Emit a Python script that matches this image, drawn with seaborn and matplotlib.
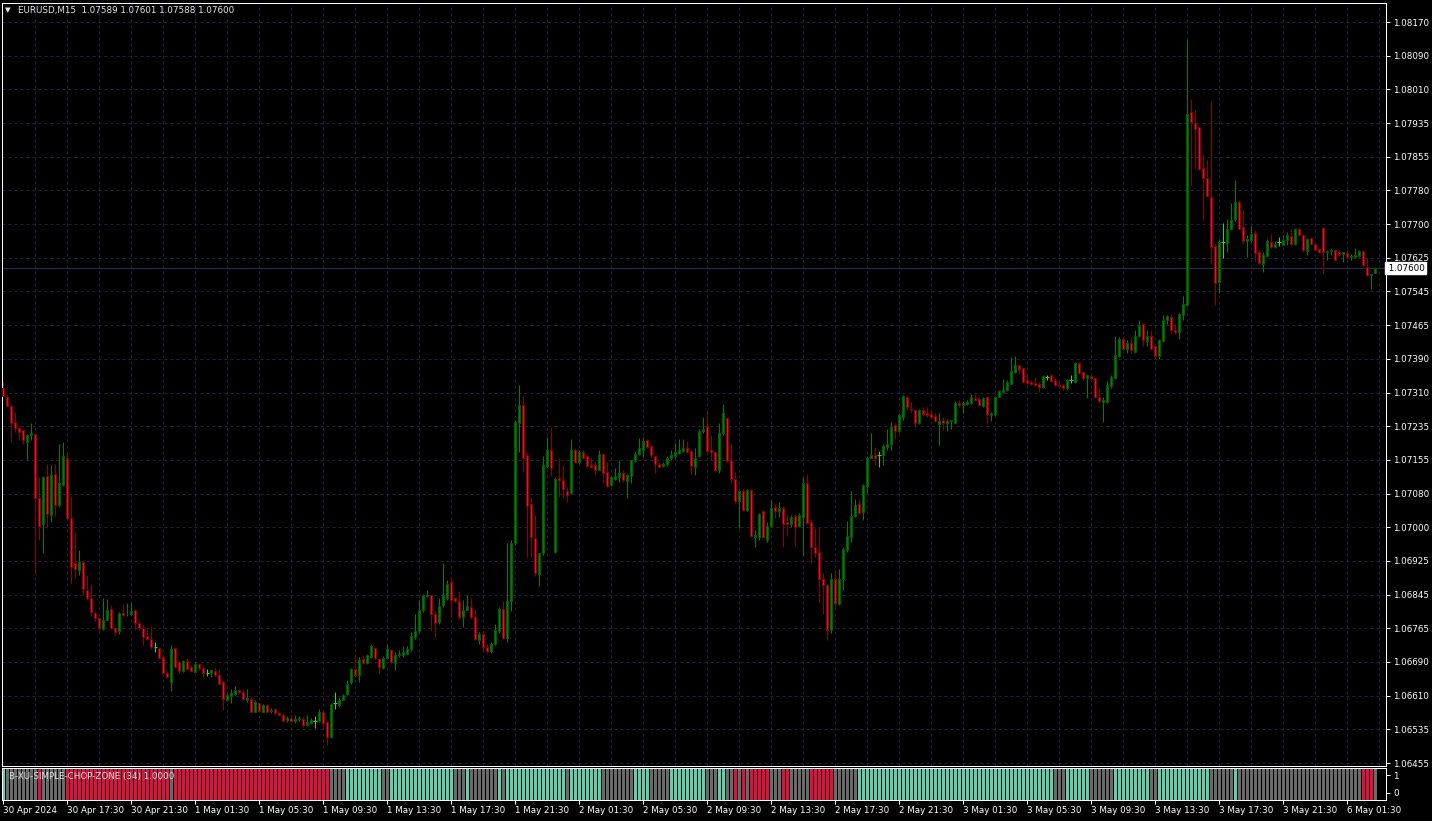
import numpy as np
import pandas as pd
import matplotlib
matplotlib.use("Agg")
import matplotlib.pyplot as plt
import matplotlib.transforms as mtransforms
import seaborn as sns

# EURUSD M15 candles (30 Apr 2024 13:30 -> 6 May 2024 03:30)
OPEN = [
    1.07324, 1.07301, 1.07282, 1.07244, 1.07231, 1.07225, 1.07198, 1.07214, 1.07216, 1.07068,
    1.07008, 1.07120, 1.07028, 1.07125, 1.07052, 1.07098, 1.07162, 1.07021, 1.06918, 1.06901,
    1.06921, 1.06856, 1.06836, 1.06803, 1.06790, 1.06766, 1.06787, 1.06812, 1.06767, 1.06761,
    1.06803, 1.06799, 1.06800, 1.06809, 1.06779, 1.06768, 1.06748, 1.06743, 1.06724, 1.06722,
    1.06701, 1.06664, 1.06643, 1.06721, 1.06689, 1.06668, 1.06691, 1.06678, 1.06666, 1.06684,
    1.06676, 1.06664, 1.06664, 1.06667, 1.06658, 1.06643, 1.06602, 1.06611, 1.06614, 1.06624,
    1.06620, 1.06602, 1.06604, 1.06573, 1.06594, 1.06573, 1.06589, 1.06575, 1.06579, 1.06570,
    1.06566, 1.06554, 1.06560, 1.06553, 1.06557, 1.06558, 1.06542, 1.06548, 1.06553, 1.06553,
    1.06573, 1.06549, 1.06516, 1.06593, 1.06589, 1.06602, 1.06614, 1.06643, 1.06672, 1.06658,
    1.06695, 1.06687, 1.06701, 1.06722, 1.06695, 1.06676, 1.06697, 1.06716, 1.06687, 1.06704,
    1.06705, 1.06708, 1.06718, 1.06747, 1.06761, 1.06809, 1.06842, 1.06845, 1.06799, 1.06782,
    1.06820, 1.06836, 1.06873, 1.06836, 1.06830, 1.06793, 1.06810, 1.06816, 1.06792, 1.06739,
    1.06753, 1.06724, 1.06714, 1.06731, 1.06761, 1.06812, 1.06745, 1.06830, 1.06965, 1.07241,
    1.07283, 1.07167, 1.07054, 1.06975, 1.06893, 1.06940, 1.07142, 1.07179, 1.06944, 1.07115,
    1.07111, 1.07084, 1.07079, 1.07179, 1.07152, 1.07175, 1.07165, 1.07144, 1.07144, 1.07134,
    1.07170, 1.07128, 1.07098, 1.07113, 1.07117, 1.07127, 1.07108, 1.07119, 1.07154, 1.07170,
    1.07180, 1.07202, 1.07188, 1.07165, 1.07148, 1.07142, 1.07147, 1.07160, 1.07165, 1.07173,
    1.07177, 1.07185, 1.07177, 1.07140, 1.07165, 1.07224, 1.07234, 1.07179, 1.07175, 1.07134,
    1.07218, 1.07254, 1.07156, 1.07113, 1.07062, 1.07084, 1.07040, 1.07088, 1.06978, 1.06977,
    1.07038, 1.06972, 1.07003, 1.07048, 1.07039, 1.07046, 1.07012, 1.07009, 1.07026, 1.07003,
    1.07025, 1.07102, 1.07013, 1.06954, 1.06943, 1.06882, 1.06867, 1.06764, 1.06882, 1.06823,
    1.06880, 1.06949, 1.06978, 1.07026, 1.07054, 1.07036, 1.07096, 1.07162, 1.07167, 1.07167,
    1.07167, 1.07187, 1.07193, 1.07237, 1.07224, 1.07256, 1.07301, 1.07275, 1.07273, 1.07242,
    1.07272, 1.07264, 1.07262, 1.07258, 1.07239, 1.07248, 1.07241, 1.07247, 1.07242, 1.07289,
    1.07283, 1.07287, 1.07289, 1.07300, 1.07297, 1.07281, 1.07302, 1.07260, 1.07262, 1.07302,
    1.07314, 1.07318, 1.07333, 1.07360, 1.07376, 1.07370, 1.07341, 1.07337, 1.07335, 1.07332,
    1.07326, 1.07349, 1.07353, 1.07341, 1.07329, 1.07329, 1.07322, 1.07341, 1.07337, 1.07380,
    1.07360, 1.07345, 1.07350, 1.07346, 1.07302, 1.07291, 1.07291, 1.07327, 1.07345, 1.07397,
    1.07437, 1.07414, 1.07426, 1.07407, 1.07443, 1.07471, 1.07432, 1.07443, 1.07420, 1.07397,
    1.07432, 1.07480, 1.07488, 1.07458, 1.07453, 1.07491, 1.07515, 1.07961, 1.07937, 1.07926,
    1.07831, 1.07808, 1.07764, 1.07651, 1.07569, 1.07660, 1.07659, 1.07690, 1.07713, 1.07754,
    1.07696, 1.07664, 1.07665, 1.07681, 1.07638, 1.07611, 1.07629, 1.07660, 1.07650, 1.07660,
    1.07655, 1.07665, 1.07675, 1.07657, 1.07690, 1.07677, 1.07640, 1.07669, 1.07656, 1.07644,
    1.07694, 1.07638, 1.07640, 1.07642, 1.07638, 1.07634, 1.07636, 1.07625, 1.07625, 1.07628,
    1.07640, 1.07602, 1.07584, 1.07589,
]
HIGH = [
    1.07337, 1.07306, 1.07285, 1.07268, 1.07234, 1.07228, 1.07216, 1.07242, 1.07219, 1.07117,
    1.07119, 1.07147, 1.07144, 1.07148, 1.07194, 1.07197, 1.07174, 1.07072, 1.06989, 1.06949,
    1.06924, 1.06890, 1.06869, 1.06807, 1.06793, 1.06838, 1.06834, 1.06820, 1.06770, 1.06805,
    1.06824, 1.06826, 1.06827, 1.06812, 1.06785, 1.06774, 1.06766, 1.06772, 1.06734, 1.06724,
    1.06705, 1.06668, 1.06729, 1.06724, 1.06691, 1.06693, 1.06697, 1.06681, 1.06688, 1.06685,
    1.06679, 1.06672, 1.06671, 1.06676, 1.06672, 1.06647, 1.06617, 1.06627, 1.06633, 1.06627,
    1.06624, 1.06627, 1.06608, 1.06600, 1.06596, 1.06591, 1.06591, 1.06583, 1.06583, 1.06572,
    1.06570, 1.06563, 1.06566, 1.06566, 1.06564, 1.06562, 1.06567, 1.06560, 1.06563, 1.06581,
    1.06577, 1.06552, 1.06594, 1.06620, 1.06608, 1.06614, 1.06647, 1.06676, 1.06705, 1.06701,
    1.06705, 1.06708, 1.06731, 1.06724, 1.06699, 1.06702, 1.06731, 1.06720, 1.06712, 1.06716,
    1.06725, 1.06725, 1.06758, 1.06801, 1.06832, 1.06847, 1.06855, 1.06847, 1.06809, 1.06838,
    1.06917, 1.06878, 1.06886, 1.06840, 1.06853, 1.06832, 1.06843, 1.06836, 1.06809, 1.06758,
    1.06761, 1.06731, 1.06735, 1.06776, 1.06816, 1.06830, 1.06965, 1.06971, 1.07248, 1.07329,
    1.07304, 1.07175, 1.07069, 1.07028, 1.06941, 1.07165, 1.07210, 1.07233, 1.07117, 1.07162,
    1.07144, 1.07093, 1.07204, 1.07183, 1.07179, 1.07179, 1.07167, 1.07162, 1.07152, 1.07180,
    1.07173, 1.07152, 1.07119, 1.07137, 1.07157, 1.07133, 1.07125, 1.07157, 1.07175, 1.07208,
    1.07210, 1.07206, 1.07191, 1.07167, 1.07152, 1.07152, 1.07165, 1.07179, 1.07196, 1.07204,
    1.07204, 1.07200, 1.07179, 1.07183, 1.07227, 1.07255, 1.07273, 1.07214, 1.07177, 1.07241,
    1.07285, 1.07256, 1.07193, 1.07129, 1.07086, 1.07090, 1.07090, 1.07090, 1.06995, 1.07034,
    1.07040, 1.07013, 1.07063, 1.07054, 1.07059, 1.07049, 1.07028, 1.07028, 1.07031, 1.07034,
    1.07117, 1.07123, 1.07017, 1.07000, 1.07000, 1.06894, 1.06870, 1.06894, 1.06901, 1.06905,
    1.06955, 1.07015, 1.07085, 1.07066, 1.07065, 1.07100, 1.07165, 1.07218, 1.07187, 1.07177,
    1.07193, 1.07229, 1.07245, 1.07241, 1.07264, 1.07306, 1.07304, 1.07291, 1.07275, 1.07275,
    1.07278, 1.07278, 1.07272, 1.07265, 1.07264, 1.07255, 1.07252, 1.07250, 1.07293, 1.07296,
    1.07293, 1.07295, 1.07309, 1.07310, 1.07301, 1.07302, 1.07304, 1.07268, 1.07304, 1.07319,
    1.07343, 1.07341, 1.07395, 1.07397, 1.07377, 1.07372, 1.07356, 1.07341, 1.07349, 1.07337,
    1.07353, 1.07354, 1.07355, 1.07345, 1.07337, 1.07332, 1.07343, 1.07353, 1.07383, 1.07383,
    1.07363, 1.07356, 1.07353, 1.07349, 1.07322, 1.07301, 1.07339, 1.07353, 1.07443, 1.07441,
    1.07441, 1.07434, 1.07441, 1.07457, 1.07481, 1.07474, 1.07457, 1.07457, 1.07422, 1.07437,
    1.07491, 1.07491, 1.07495, 1.07472, 1.07497, 1.07535, 1.08130, 1.07991, 1.07966, 1.07927,
    1.07864, 1.07850, 1.07985, 1.07657, 1.07667, 1.07704, 1.07715, 1.07750, 1.07804, 1.07758,
    1.07735, 1.07677, 1.07697, 1.07688, 1.07643, 1.07638, 1.07667, 1.07679, 1.07664, 1.07673,
    1.07677, 1.07684, 1.07690, 1.07694, 1.07696, 1.07679, 1.07671, 1.07673, 1.07659, 1.07648,
    1.07696, 1.07643, 1.07646, 1.07643, 1.07643, 1.07638, 1.07643, 1.07634, 1.07648, 1.07642,
    1.07643, 1.07623, 1.07586, 1.07601,
]
LOW = [
    1.07302, 1.07279, 1.07201, 1.07221, 1.07202, 1.07194, 1.07156, 1.07202, 1.06893, 1.06972,
    1.06941, 1.07000, 1.07013, 1.07026, 1.07048, 1.07096, 1.07018, 1.06870, 1.06886, 1.06890,
    1.06847, 1.06832, 1.06796, 1.06784, 1.06758, 1.06764, 1.06785, 1.06765, 1.06751, 1.06753,
    1.06795, 1.06795, 1.06797, 1.06762, 1.06762, 1.06728, 1.06739, 1.06718, 1.06712, 1.06697,
    1.06658, 1.06651, 1.06622, 1.06676, 1.06664, 1.06665, 1.06670, 1.06665, 1.06665, 1.06670,
    1.06654, 1.06656, 1.06654, 1.06654, 1.06635, 1.06577, 1.06599, 1.06593, 1.06613, 1.06616,
    1.06602, 1.06596, 1.06571, 1.06572, 1.06573, 1.06572, 1.06572, 1.06570, 1.06567, 1.06563,
    1.06550, 1.06550, 1.06550, 1.06548, 1.06553, 1.06539, 1.06541, 1.06546, 1.06536, 1.06550,
    1.06539, 1.06496, 1.06514, 1.06581, 1.06585, 1.06600, 1.06612, 1.06639, 1.06654, 1.06643,
    1.06685, 1.06684, 1.06698, 1.06693, 1.06664, 1.06673, 1.06695, 1.06687, 1.06671, 1.06701,
    1.06701, 1.06707, 1.06714, 1.06743, 1.06758, 1.06805, 1.06839, 1.06762, 1.06747, 1.06776,
    1.06816, 1.06832, 1.06792, 1.06828, 1.06789, 1.06770, 1.06809, 1.06789, 1.06739, 1.06731,
    1.06712, 1.06710, 1.06710, 1.06728, 1.06755, 1.06743, 1.06735, 1.06807, 1.06959, 1.07175,
    1.07129, 1.06932, 1.06932, 1.06887, 1.06865, 1.06936, 1.07137, 1.07119, 1.06940, 1.07071,
    1.07069, 1.07059, 1.07077, 1.07150, 1.07148, 1.07160, 1.07140, 1.07137, 1.07121, 1.07133,
    1.07103, 1.07094, 1.07096, 1.07110, 1.07106, 1.07106, 1.07069, 1.07103, 1.07152, 1.07167,
    1.07164, 1.07183, 1.07162, 1.07127, 1.07137, 1.07139, 1.07142, 1.07156, 1.07160, 1.07170,
    1.07175, 1.07173, 1.07125, 1.07121, 1.07164, 1.07219, 1.07167, 1.07156, 1.07131, 1.07127,
    1.07214, 1.07152, 1.07102, 1.07057, 1.06998, 1.07039, 1.07039, 1.06977, 1.06955, 1.06972,
    1.06975, 1.06967, 1.07001, 1.07021, 1.07025, 1.06955, 1.06980, 1.07002, 1.06957, 1.07002,
    1.06934, 1.07009, 1.06918, 1.06932, 1.06828, 1.06801, 1.06739, 1.06756, 1.06812, 1.06820,
    1.06856, 1.06944, 1.06967, 1.07025, 1.07032, 1.07017, 1.07079, 1.07160, 1.07144, 1.07139,
    1.07144, 1.07179, 1.07180, 1.07204, 1.07221, 1.07248, 1.07272, 1.07264, 1.07233, 1.07239,
    1.07258, 1.07256, 1.07252, 1.07245, 1.07191, 1.07225, 1.07224, 1.07229, 1.07241, 1.07279,
    1.07265, 1.07283, 1.07287, 1.07293, 1.07281, 1.07279, 1.07242, 1.07247, 1.07258, 1.07301,
    1.07312, 1.07316, 1.07332, 1.07358, 1.07356, 1.07335, 1.07333, 1.07329, 1.07327, 1.07314,
    1.07324, 1.07341, 1.07337, 1.07327, 1.07322, 1.07319, 1.07319, 1.07335, 1.07335, 1.07356,
    1.07341, 1.07300, 1.07341, 1.07299, 1.07289, 1.07245, 1.07289, 1.07324, 1.07343, 1.07395,
    1.07412, 1.07403, 1.07404, 1.07403, 1.07440, 1.07420, 1.07420, 1.07410, 1.07389, 1.07391,
    1.07430, 1.07471, 1.07451, 1.07448, 1.07437, 1.07480, 1.07512, 1.07792, 1.07829, 1.07827,
    1.07711, 1.07765, 1.07611, 1.07515, 1.07542, 1.07624, 1.07638, 1.07688, 1.07710, 1.07688,
    1.07657, 1.07627, 1.07661, 1.07617, 1.07610, 1.07592, 1.07627, 1.07648, 1.07646, 1.07651,
    1.07654, 1.07654, 1.07654, 1.07654, 1.07674, 1.07638, 1.07630, 1.07655, 1.07642, 1.07636,
    1.07589, 1.07619, 1.07630, 1.07619, 1.07628, 1.07615, 1.07623, 1.07620, 1.07623, 1.07625,
    1.07603, 1.07582, 1.07551, 1.07588,
]
CLOSE = [
    1.07304, 1.07282, 1.07242, 1.07231, 1.07221, 1.07202, 1.07214, 1.07219, 1.07069, 1.07004,
    1.07117, 1.07032, 1.07121, 1.07052, 1.07102, 1.07165, 1.07021, 1.06909, 1.06903, 1.06920,
    1.06858, 1.06836, 1.06805, 1.06791, 1.06768, 1.06787, 1.06809, 1.06768, 1.06758, 1.06802,
    1.06797, 1.06801, 1.06806, 1.06779, 1.06768, 1.06747, 1.06741, 1.06724, 1.06724, 1.06699,
    1.06664, 1.06654, 1.06720, 1.06678, 1.06668, 1.06691, 1.06673, 1.06667, 1.06685, 1.06674,
    1.06664, 1.06664, 1.06670, 1.06658, 1.06639, 1.06604, 1.06612, 1.06617, 1.06625, 1.06620,
    1.06603, 1.06605, 1.06573, 1.06596, 1.06576, 1.06589, 1.06573, 1.06577, 1.06570, 1.06566,
    1.06553, 1.06560, 1.06553, 1.06558, 1.06559, 1.06542, 1.06550, 1.06554, 1.06553, 1.06573,
    1.06548, 1.06516, 1.06591, 1.06593, 1.06602, 1.06612, 1.06639, 1.06672, 1.06658, 1.06693,
    1.06687, 1.06705, 1.06725, 1.06697, 1.06678, 1.06699, 1.06718, 1.06689, 1.06705, 1.06708,
    1.06711, 1.06719, 1.06748, 1.06760, 1.06810, 1.06843, 1.06844, 1.06801, 1.06779, 1.06818,
    1.06843, 1.06870, 1.06833, 1.06830, 1.06793, 1.06810, 1.06819, 1.06792, 1.06743, 1.06753,
    1.06724, 1.06714, 1.06731, 1.06762, 1.06811, 1.06745, 1.06830, 1.06965, 1.07245, 1.07283,
    1.07162, 1.07051, 1.06978, 1.06895, 1.06941, 1.07144, 1.07179, 1.07137, 1.07113, 1.07110,
    1.07090, 1.07075, 1.07179, 1.07152, 1.07175, 1.07162, 1.07142, 1.07139, 1.07134, 1.07171,
    1.07127, 1.07096, 1.07116, 1.07119, 1.07127, 1.07110, 1.07121, 1.07156, 1.07171, 1.07183,
    1.07200, 1.07187, 1.07167, 1.07148, 1.07140, 1.07148, 1.07160, 1.07167, 1.07175, 1.07179,
    1.07183, 1.07175, 1.07143, 1.07162, 1.07224, 1.07229, 1.07177, 1.07175, 1.07134, 1.07218,
    1.07264, 1.07154, 1.07113, 1.07062, 1.07084, 1.07040, 1.07088, 1.06980, 1.06982, 1.07032,
    1.06977, 1.07003, 1.07046, 1.07039, 1.07046, 1.07009, 1.07008, 1.07025, 1.07002, 1.07028,
    1.07104, 1.07011, 1.06954, 1.06941, 1.06880, 1.06868, 1.06764, 1.06880, 1.06826, 1.06882,
    1.06951, 1.06980, 1.07026, 1.07052, 1.07034, 1.07098, 1.07162, 1.07167, 1.07162, 1.07167,
    1.07188, 1.07194, 1.07233, 1.07224, 1.07260, 1.07304, 1.07278, 1.07272, 1.07242, 1.07272,
    1.07262, 1.07260, 1.07256, 1.07247, 1.07247, 1.07241, 1.07247, 1.07249, 1.07289, 1.07283,
    1.07289, 1.07291, 1.07302, 1.07295, 1.07283, 1.07300, 1.07262, 1.07264, 1.07302, 1.07316,
    1.07319, 1.07337, 1.07362, 1.07376, 1.07368, 1.07337, 1.07335, 1.07332, 1.07329, 1.07326,
    1.07350, 1.07349, 1.07339, 1.07329, 1.07327, 1.07323, 1.07341, 1.07341, 1.07380, 1.07358,
    1.07345, 1.07353, 1.07345, 1.07302, 1.07292, 1.07296, 1.07329, 1.07349, 1.07399, 1.07437,
    1.07414, 1.07426, 1.07410, 1.07443, 1.07468, 1.07434, 1.07443, 1.07414, 1.07397, 1.07435,
    1.07481, 1.07489, 1.07458, 1.07453, 1.07495, 1.07518, 1.07958, 1.07939, 1.07923, 1.07830,
    1.07810, 1.07768, 1.07650, 1.07567, 1.07660, 1.07660, 1.07690, 1.07711, 1.07754, 1.07692,
    1.07664, 1.07667, 1.07679, 1.07636, 1.07613, 1.07630, 1.07663, 1.07650, 1.07656, 1.07660,
    1.07665, 1.07677, 1.07656, 1.07692, 1.07678, 1.07643, 1.07667, 1.07657, 1.07643, 1.07638,
    1.07637, 1.07640, 1.07643, 1.07620, 1.07633, 1.07637, 1.07625, 1.07628, 1.07630, 1.07640,
    1.07607, 1.07584, 1.07586, 1.07600,
]

# chop zone colour per bar, as runs of (zone, count): R = red, T = teal, G = grey
ZONE_RUNS = [
    ("T", 1), ("G", 8), ("R", 1), ("G", 6), ("R", 26), ("G", 1), ("R", 39), ("G", 4),
    ("T", 9), ("G", 2), ("T", 16), ("G", 3), ("T", 1), ("G", 7), ("T", 1), ("G", 1),
    ("T", 15), ("G", 1), ("T", 8), ("G", 8), ("T", 4), ("G", 5), ("T", 9), ("G", 3),
    ("T", 2), ("G", 2), ("R", 1), ("G", 1), ("R", 1), ("G", 1), ("R", 5), ("G", 3),
    ("R", 2), ("G", 5), ("R", 6), ("G", 6), ("T", 49), ("G", 3), ("T", 6), ("G", 6),
    ("T", 9), ("G", 2), ("T", 13), ("G", 6), ("T", 1), ("G", 31), ("R", 3), ("G", 1),
]

TIME_LABELS = [
    "30 Apr 2024", "30 Apr 17:30", "30 Apr 21:30", "1 May 01:30", "1 May 05:30",
    "1 May 09:30", "1 May 13:30", "1 May 17:30", "1 May 21:30", "2 May 01:30",
    "2 May 05:30", "2 May 09:30", "2 May 13:30", "2 May 17:30", "2 May 21:30",
    "3 May 01:30", "3 May 05:30", "3 May 09:30", "3 May 13:30", "3 May 17:30",
    "3 May 21:30", "6 May 01:30",
]
PRICE_LABELS = [
    "1.08170", "1.08090", "1.08010", "1.07935", "1.07855", "1.07780", "1.07700", "1.07625",
    "1.07545", "1.07465", "1.07390", "1.07310", "1.07235", "1.07155", "1.07080", "1.07000",
    "1.06925", "1.06845", "1.06765", "1.06690", "1.06610", "1.06535", "1.06455",
]
LAST_PRICE = 1.07600
HEADER = "EURUSD,M15  1.07589 1.07601 1.07588 1.07600"
INDICATOR = "B-XU-SIMPLE-CHOP-ZONE (34) 1.0000"

BULL = "#008000"
BULL_EDGE = "#005c00"
BEAR = "#dc1430"
BEAR_EDGE = "#8b0000"
DOJI = "#1fe01f"
GRID = "#20203e"
ZONE_COLORS = {"R": "#dc143c", "T": "#66cdaa", "G": "#6a6a6a"}

sns.set_style("dark", {
    "axes.facecolor": "black",
    "figure.facecolor": "black",
    "axes.edgecolor": "white",
    "text.color": "white",
    "xtick.color": "white",
    "ytick.color": "white",
})
plt.rcParams["font.family"] = ["DejaVu Sans"]

W, H = 1432, 821
px = 0.72  # one pixel in points at 100 dpi
FS = 6.3

fig = plt.figure(figsize=(W / 100, H / 100), dpi=100)
ax = fig.add_axes([2 / W, 1 - 766 / H, 1384 / W, 763 / H])
ax2 = fig.add_axes([2 / W, 1 - 800 / H, 1384 / W, 32 / H])

o = np.array(OPEN)
h = np.array(HIGH)
l = np.array(LOW)
c = np.array(CLOSE)
h = np.maximum(h, np.maximum(o, c))
l = np.minimum(l, np.minimum(o, c))
idx = np.arange(len(c))
up = c > o
down = c < o
flat = c == o

# wicks
ax.vlines(idx[up], l[up], h[up], color=BULL, lw=px, zorder=2)
ax.vlines(idx[down], l[down], h[down], color=BEAR_EDGE, lw=px, zorder=2)
ax.vlines(idx[flat], l[flat], h[flat], color=DOJI, lw=px, zorder=2)
# bodies
ax.bar(idx[up], (c - o)[up], bottom=o[up], width=0.55, color=BULL,
       edgecolor=BULL_EDGE, linewidth=px, zorder=3)
ax.bar(idx[down], (c - o)[down], bottom=o[down], width=0.55, color=BEAR,
       edgecolor=BEAR_EDGE, linewidth=px, zorder=3)
ax.hlines(c[flat], idx[flat] - 0.45, idx[flat] + 0.45, color=DOJI, lw=px, zorder=3)

# last price line
ax.axhline(LAST_PRICE, color="#2a2a58", lw=px, zorder=1)

n_bars = len(c)
ax.set_xlim(-0.33, n_bars + 1.7)
ax.set_ylim(1.064481, 1.082140)

tick_pos = np.linspace(1.08170, 1.06455, len(PRICE_LABELS))
ax.set_yticks(tick_pos)
ax.set_yticklabels(PRICE_LABELS)
ax.set_xticks(np.arange(8, n_bars + 1, 8))
ax.yaxis.tick_right()
ax.tick_params(axis="y", which="major", right=True, left=False, labelright=True,
               labelleft=False, length=3, width=px, colors="white", labelsize=FS, pad=2,
               direction="out")
ax.tick_params(axis="x", bottom=False, labelbottom=False, length=0)
ax.grid(True, which="major", color=GRID, linestyle=(0, (3, 3)), linewidth=px)
for s in ax.spines.values():
    s.set_color("white")
    s.set_linewidth(px)

# price tag on the right axis
trans = mtransforms.blended_transform_factory(ax.transAxes, ax.transData)
ax.text(1.0, LAST_PRICE, " " + f"{LAST_PRICE:.5f}", transform=trans, ha="left", va="center",
        fontsize=FS, color="black", zorder=10, clip_on=False,
        bbox=dict(boxstyle="square,pad=0.15", facecolor="white", edgecolor="white"))

# header: small triangle, then symbol and OHLC of the last bar
fig.text(5 / W, 1 - 10 / H, "\u25bc", fontsize=FS - 1, color="#e8e8e8", va="center",
         ha="left")
fig.text(18 / W, 1 - 10 / H, HEADER, fontsize=FS, color="#e8e8e8", va="center", ha="left")

# chop zone indicator
zone = []
for code, n in ZONE_RUNS:
    zone += [code] * n
zone_df = pd.DataFrame({"bar": idx, "level": np.ones(n_bars), "zone": zone[:n_bars]})
sns.barplot(data=zone_df, x="bar", y="level", hue="zone", palette=ZONE_COLORS,
            native_scale=True, dodge=False, width=0.7, legend=False, errorbar=None,
            saturation=1, linewidth=0, ax=ax2)
ax2.set_xlim(-0.33, n_bars + 1.7)
ax2.set_ylim(0, 1.0)
ax2.set_xlabel("")
ax2.set_ylabel("")
ax2.set_xticks(np.arange(0, n_bars, 16)[:len(TIME_LABELS)])
ax2.set_xticklabels(TIME_LABELS)
for lab in ax2.get_xticklabels():
    lab.set_ha("left")
ax2.yaxis.tick_right()
ax2.set_yticks([0.23, 0.78])
ax2.set_yticklabels(["0", "1"])
ax2.tick_params(axis="x", bottom=True, length=3, width=px, colors="white", labelsize=FS,
                pad=1, direction="out")
ax2.tick_params(axis="y", right=True, left=False, labelright=True, labelleft=False,
                length=3, width=px, colors="white", labelsize=FS, pad=2, direction="out")
ax2.grid(False)
for s in ax2.spines.values():
    s.set_color("white")
    s.set_linewidth(px)
ax2.text(7 / 1384, 0.72, INDICATOR, transform=ax2.transAxes, fontsize=FS, color="#e0e0e0",
         va="center", ha="left", zorder=10)

fig.savefig("out.png", dpi=100, facecolor="black")
